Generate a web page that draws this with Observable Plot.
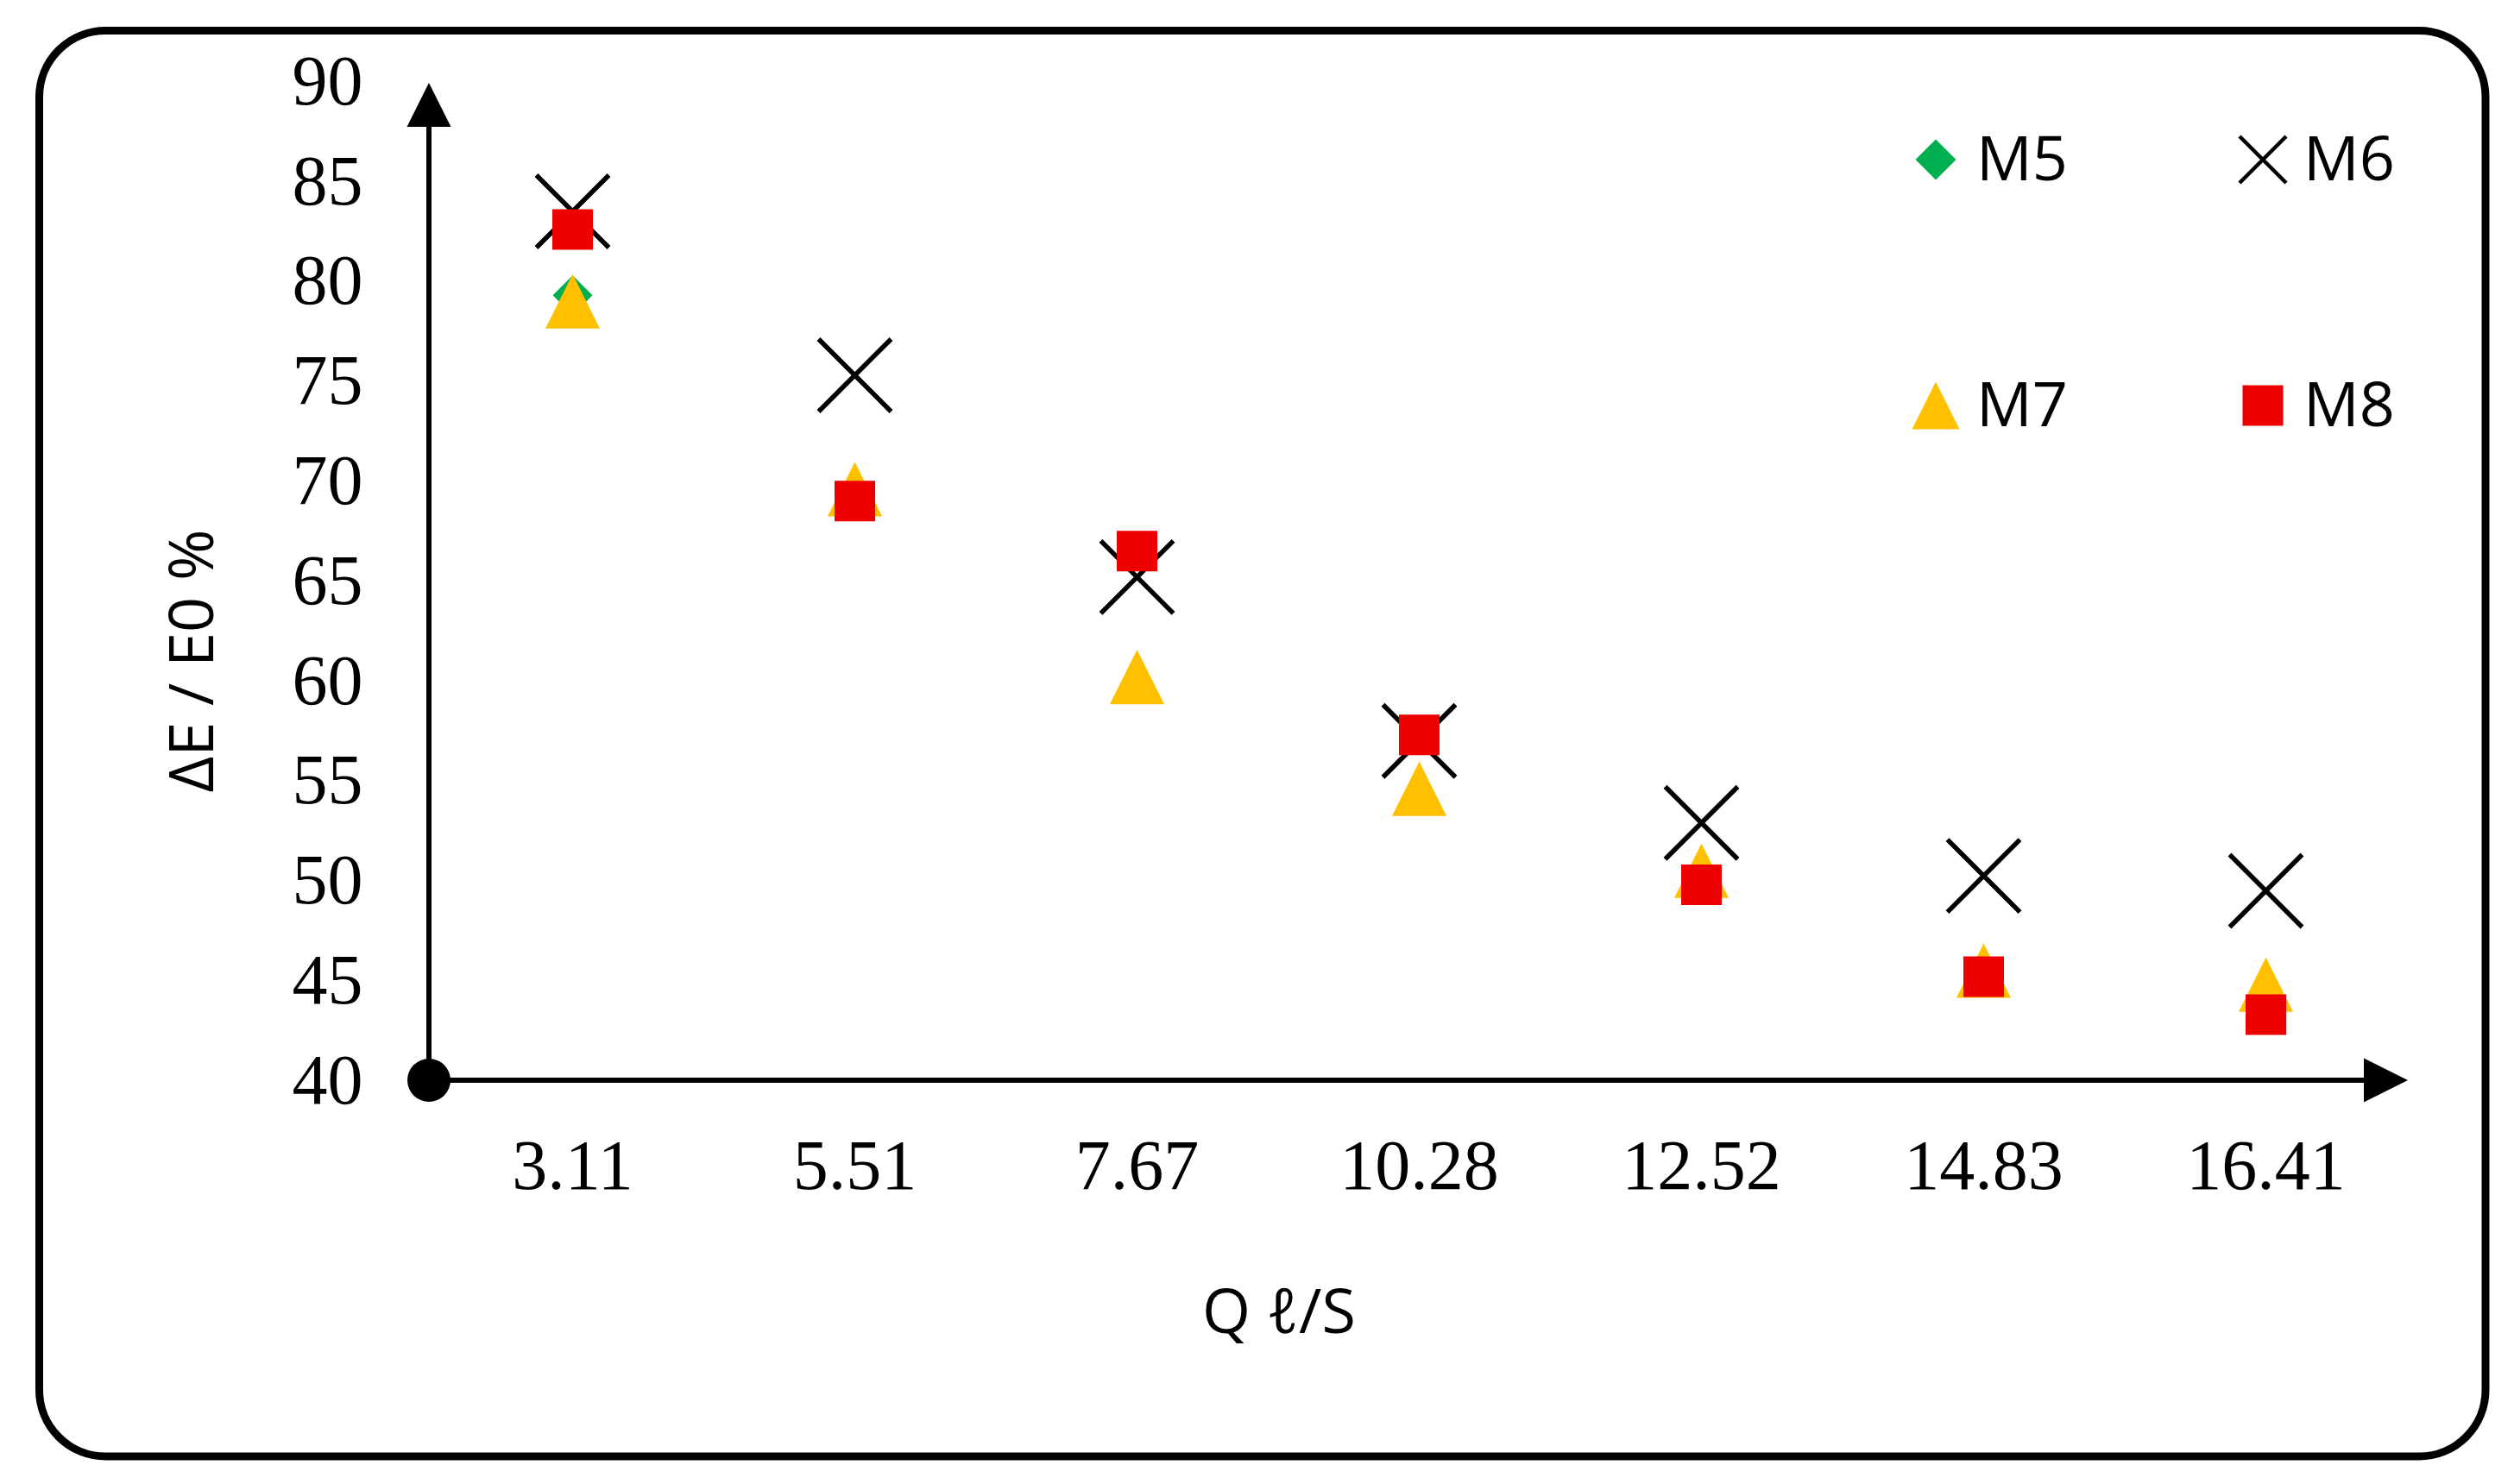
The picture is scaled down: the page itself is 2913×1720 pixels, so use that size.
<!DOCTYPE html>
<html><head><meta charset="utf-8">
<script src="https://cdn.jsdelivr.net/npm/d3@7"></script>
<script src="https://cdn.jsdelivr.net/npm/@observablehq/plot@0.6"></script>
<style>html,body{margin:0;padding:0;background:#fff;} svg{display:block}</style>
</head><body>
<div id="chart"></div>
<script>
// ---- data ----
const categories = ["3.11", "5.51", "7.67", "10.28", "12.52", "14.83", "16.41"];
const seriesNames = ["M5", "M6", "M7", "M8"];
const m5 = [79.3, 69.0, 66.5, 57.3, 49.8, 45.2, 43.3];
const m6 = [83.5, 75.3, 65.2, 57.0, 52.9, 50.25, 49.5];
const m7 = [79.0, 69.6, 60.2, 54.6, 50.5, 45.5, 44.8];
const m8 = [82.6, 69.0, 66.5, 57.3, 49.8, 45.2, 43.3];
const yTicks = [40, 45, 50, 55, 60, 65, 70, 75, 80, 85, 90];
const xTitle = "Q ℓ/S";
const yTitle = "ΔE / E0 %";
const seriesColors = ["#00B050", "#000000", "#FFC000", "#EE0000"];

// ---- symbols (r = half extent) ----
const rOf = size => Math.sqrt(size / Math.PI);
const symDiamond = {draw(c, s) {const r = rOf(s); c.moveTo(0, -r); c.lineTo(r, 0); c.lineTo(0, r); c.lineTo(-r, 0); c.closePath();}};
const symTimes = {draw(c, s) {const r = rOf(s); c.moveTo(-r, -r); c.lineTo(r, r); c.moveTo(r, -r); c.lineTo(-r, r);}};
const symTriangle = {draw(c, s) {const r = rOf(s); c.moveTo(0, -r); c.lineTo(r, r); c.lineTo(-r, r); c.closePath();}};
const symSquare = {draw(c, s) {const r = rOf(s); c.moveTo(-r, -r); c.lineTo(r, -r); c.lineTo(r, r); c.lineTo(-r, r); c.closePath();}};

const rows = vals => categories.map((q, i) => ({q, v: vals[i]}));

const W = 2913, H = 1720;
const serif = "'Liberation Serif', 'Times New Roman', serif";
const sans = "'Open Sans', 'Noto Sans', 'DejaVu Sans', sans-serif";

const plot = Plot.plot({
  width: W, height: H,
  marginLeft: 497, marginRight: 123, marginTop: 94, marginBottom: 468,
  x: {type: "point", domain: categories, padding: 0.5},
  y: {domain: [40, 90]},
  style: {background: "white", color: "black", fontFamily: serif, fontSize: "82px"},
  marks: [
    Plot.axisY({ticks: yTicks, tickSize: 0, tickPadding: 77, fontSize: 82, fontFamily: serif, label: null, tickFormat: d => String(d)}),
    Plot.axisX({tickSize: 0, tickPadding: 67, fontSize: 82, fontFamily: serif, label: null}),
    Plot.dot(rows(m5), {x: "q", y: "v", symbol: symDiamond, r: 23, fill: seriesColors[0], stroke: "none"}),
    Plot.dot(rows(m6), {x: "q", y: "v", symbol: symTimes, r: 42, fill: "none", stroke: seriesColors[1], strokeWidth: 5.5}),
    Plot.dot(rows(m7), {x: "q", y: "v", symbol: symTriangle, r: 31.5, fill: seriesColors[2], stroke: "none"}),
    Plot.dot(rows(m8), {x: "q", y: "v", symbol: symSquare, r: 23.5, fill: seriesColors[3], stroke: "none"})
  ]
});
document.getElementById("chart").appendChild(plot);

// ---- decorations: frame, axis lines with arrows, titles, legend ----
const svg = d3.select(plot);
const xs = plot.scale("x"), ys = plot.scale("y");
const x0 = xs.range[0], x1 = xs.range[1];
const yb = ys.apply(40), yt = ys.apply(90);
const g = svg.append("g").attr("text-anchor", "start");

g.append("rect").attr("x", 45.5).attr("y", 35.5).attr("width", 2834.5).attr("height", 1652.5)
  .attr("rx", 77).attr("ry", 77).attr("fill", "none").attr("stroke", "black").attr("stroke-width", 9);

g.append("line").attr("x1", x0).attr("x2", x0).attr("y1", yb).attr("y2", yt + 50)
  .attr("stroke", "black").attr("stroke-width", 6);
g.append("path").attr("d", `M${x0},${yt + 2}L${x0 - 25.5},${yt + 53}L${x0 + 25.5},${yt + 53}Z`).attr("fill", "black");
g.append("line").attr("x1", x0).attr("x2", x1 - 48).attr("y1", yb).attr("y2", yb)
  .attr("stroke", "black").attr("stroke-width", 6);
g.append("path").attr("d", `M${x1},${yb}L${x1 - 51},${yb - 25.5}L${x1 - 51},${yb + 25.5}Z`).attr("fill", "black");
g.append("circle").attr("cx", x0).attr("cy", yb).attr("r", 25).attr("fill", "black");

g.append("text").attr("x", 1482).attr("y", 1545).attr("text-anchor", "middle")
  .attr("font-family", sans).attr("font-size", 72).attr("fill", "black").text(xTitle);
g.append("text").attr("transform", "translate(247,766) rotate(-90)").attr("text-anchor", "middle")
  .attr("font-family", sans).attr("font-size", 72).attr("fill", "black").text(yTitle);

const legendSyms = [
  {sym: symDiamond, r: 23.5, fill: seriesColors[0], stroke: "none", sw: 0},
  {sym: symTimes, r: 27, fill: "none", stroke: seriesColors[1], sw: 4.5},
  {sym: symTriangle, r: 27.5, fill: seriesColors[2], stroke: "none", sw: 0},
  {sym: symSquare, r: 23.5, fill: seriesColors[3], stroke: "none", sw: 0}
];
const legendCols = [2243, 2622], legendRows = [185, 470];
seriesNames.forEach((name, i) => {
  const cx = legendCols[i % 2], cy = legendRows[Math.floor(i / 2)];
  const s = legendSyms[i];
  g.append("path").attr("transform", `translate(${cx},${cy})`)
    .attr("d", d3.symbol(s.sym, Math.PI * s.r * s.r)())
    .attr("fill", s.fill).attr("stroke", s.stroke).attr("stroke-width", s.sw);
  g.append("text").attr("x", cx + 47).attr("y", cy + 24).attr("text-anchor", "start")
    .attr("font-family", sans).attr("font-size", 72).attr("fill", "black").text(name);
});
</script>
</body></html>
